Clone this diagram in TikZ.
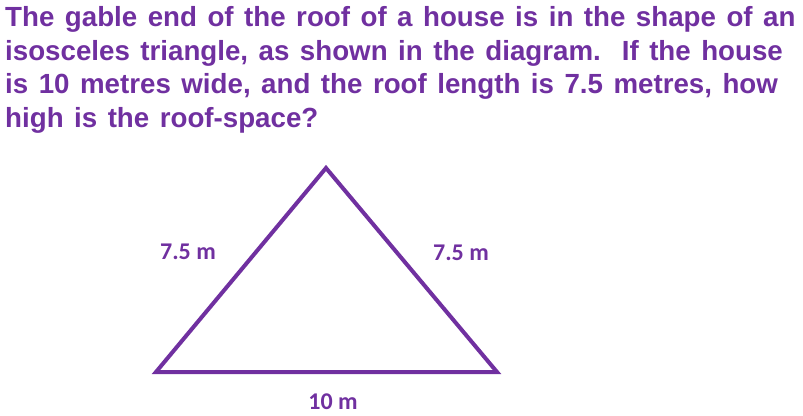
\documentclass[tikz,border=0pt]{standalone}
\usepackage{fontspec}
\setmainfont{Liberation Sans}
\newfontfamily\lblfont{Carlito}
\definecolor{tpurple}{HTML}{7030A0}
\newcommand\qtextfont{\fontsize{27.7}{28}\selectfont\bfseries\spaceskip=10.5pt\relax}
\begin{document}
\begin{tikzpicture}[x=1pt,y=-1pt,
  qline/.style={anchor=base west,inner sep=0pt,text=tpurple,font=\qtextfont},
  lbl/.style={anchor=base,inner sep=0pt,text=tpurple,font=\lblfont\fontsize{24}{24}\selectfont\bfseries},
  side/.style={draw=tpurple,line width=4pt,line join=miter}]
\useasboundingbox (0,0) rectangle (803,415);
\node[qline] (l1) at (5,26.5) {The gable end of the roof of a house is in the shape of an};
\node[qline] (l2) at (5,60) {isosceles triangle, as shown in the diagram.\ \ If the house};
\node[qline] (l3) at (5,93.5) {is 10 metres wide, and the roof length is 7.5 metres, how};
\node[qline] (l4) at (5,127) {high is the roof-space?};
\coordinate (A) at (326,168);
\coordinate (B) at (156,372);
\coordinate (C) at (497,372);
\draw[side] (A) -- (B) -- (C) -- cycle;
\node[lbl] (s1) at (188,259) {7.5 m};
\node[lbl] (s2) at (461,260) {7.5 m};
\node[lbl] (s3) at (333,409) {10 m};
\end{tikzpicture}
\end{document}
